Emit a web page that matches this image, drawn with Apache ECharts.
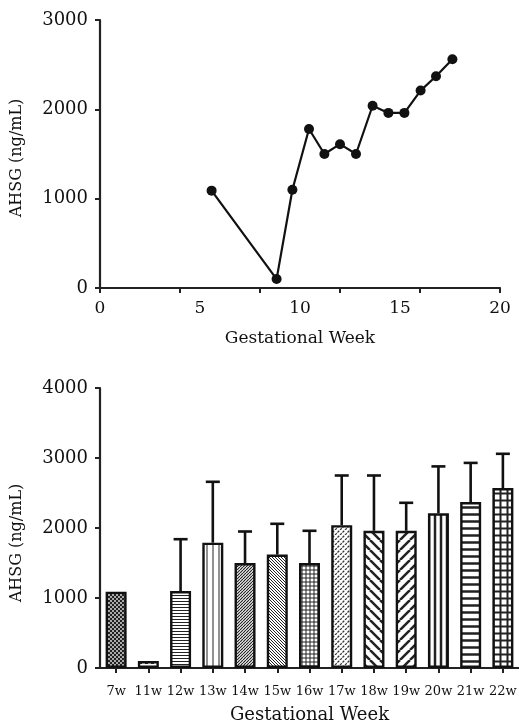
<!DOCTYPE html>
<html>
<head>
<meta charset="utf-8">
<script src="https://cdn.jsdelivr.net/npm/echarts@6/dist/echarts.min.js"></script>
<style>
  html, body { margin: 0; padding: 0; background: #fff; }
  #main { width: 519px; height: 720px; }
</style>
</head>
<body>
<div id="main"></div>
<script>
  // top panel: mean AHSG against gestational week
  var lineWeeks = [5.58, 8.83, 9.62, 10.45, 11.22, 12.0, 12.8, 13.63, 14.42, 15.22, 16.03, 16.8, 17.62];
  var lineValues = [1090, 100, 1100, 1780, 1500, 1610, 1500, 2040, 1960, 1960, 2210, 2370, 2560];

  // bottom panel: mean + upper SD per week
  var weekLabels = ['7w', '11w', '12w', '13w', '14w', '15w', '16w', '17w', '18w', '19w', '20w', '21w', '22w'];
  var barValues = [1090, 100, 1100, 1790, 1500, 1620, 1500, 2040, 1960, 1960, 2210, 2370, 2570];
  var errUpper = [null, null, 1840, 2660, 1950, 2060, 1960, 2750, 2750, 2360, 2880, 2930, 3060];

  var yTicksTop = [0, 1000, 2000, 3000];
  var yTicksBottom = [0, 1000, 2000, 3000, 4000];

  var patternKinds = ['checker', 'dots', 'hthin', 'vthin', 'fslash', 'bslash', 'gridthin',
    'fdash', 'bslashthick', 'fslashthick', 'vthick', 'hthick', 'gridthick'];

  var serif = 'DejaVu Serif';
  var ink = '#111';

  // small canvas tiles used as bar fill patterns
  function makePattern(kind) {
    var s = 6;
    if (kind === 'bslashthick' || kind === 'fslashthick') s = 10;
    if (kind === 'hthick' || kind === 'gridthick') s = 7;
    if (kind === 'vthick') s = 6;
    if (kind === 'hthin' || kind === 'fslash' || kind === 'bslash') s = 3;
    if (kind === 'checker') s = 4;
    if (kind === 'gridthin') s = 4;
    if (kind === 'fdash') s = 5;
    var c = document.createElement('canvas');
    c.width = s; c.height = s;
    var g = c.getContext('2d');
    g.fillStyle = '#fff';
    g.fillRect(0, 0, s, s);
    g.strokeStyle = '#222';
    g.fillStyle = '#333';
    if (kind === 'checker') {
      g.fillStyle = '#aaa';
      g.fillRect(0, 0, s, s);
      g.fillStyle = '#222';
      g.fillRect(0, 0, 2, 2);
      g.fillRect(2, 2, 2, 2);
    } else if (kind === 'dots') {
      g.fillRect(1, 1, 3, 3);
    } else if (kind === 'hthin' || kind === 'hthick') {
      g.lineWidth = kind === 'hthin' ? 1 : 2.5;
      g.beginPath(); g.moveTo(0, s / 2); g.lineTo(s, s / 2); g.stroke();
    } else if (kind === 'vthin' || kind === 'vthick') {
      g.lineWidth = kind === 'vthin' ? 1 : 2.5;
      g.beginPath(); g.moveTo(s / 2, 0); g.lineTo(s / 2, s); g.stroke();
    } else if (kind === 'gridthin' || kind === 'gridthick') {
      g.lineWidth = kind === 'gridthin' ? 1 : 2;
      g.beginPath();
      g.moveTo(0, s / 2); g.lineTo(s, s / 2);
      g.moveTo(s / 2, 0); g.lineTo(s / 2, s);
      g.stroke();
    } else if (kind === 'fslash' || kind === 'fslashthick' || kind === 'fdash') {
      g.lineWidth = kind === 'fslashthick' ? 2.5 : 1.2;
      if (kind === 'fdash') { g.strokeStyle = '#333'; g.setLineDash([2.5, 1]); }
      g.beginPath();
      for (var k = -1; k <= 1; k++) { g.moveTo(k * s, s); g.lineTo(k * s + s, 0); }
      g.stroke();
    } else if (kind === 'bslash' || kind === 'bslashthick') {
      g.lineWidth = kind === 'bslashthick' ? 2.5 : 1;
      g.beginPath();
      for (var m = -1; m <= 1; m++) { g.moveTo(m * s, 0); g.lineTo(m * s + s, s); }
      g.stroke();
    }
    return { image: c, repeat: 'repeat' };
  }

  var barData = barValues.map(function (v, i) {
    return {
      value: v,
      itemStyle: { color: makePattern(patternKinds[i]) }
    };
  });

  var errData = [];
  errUpper.forEach(function (u, i) {
    if (u !== null) errData.push([i, barValues[i], u]);
  });

  var plain = function (v) { return String(v); };
  var axisLine = { show: true, lineStyle: { color: '#222', width: 2.2 } };
  var axisTick = { show: true, length: 5, lineStyle: { color: '#222', width: 2 } };

  var option = {
    animation: false,
    backgroundColor: '#fff',
    grid: [
      { left: 100, top: 20, width: 400, height: 268, outerBoundsMode: 'none' },
      { left: 100, top: 388, width: 419, height: 280, outerBoundsMode: 'none' }
    ],
    xAxis: [
      {
        gridIndex: 0, type: 'value', min: 0, max: 20, interval: 4, position: 'bottom',
        axisLine: axisLine, axisTick: axisTick, axisLabel: { show: false }, splitLine: { show: false }
      },
      {
        gridIndex: 0, type: 'value', min: 0, max: 20, interval: 5, position: 'bottom',
        axisLine: { show: false }, axisTick: { show: false }, splitLine: { show: false },
        axisLabel: { color: ink, fontFamily: serif, fontSize: 17, margin: 12, formatter: plain },
        name: 'Gestational Week', nameLocation: 'middle', nameGap: 42,
        nameTextStyle: { color: ink, fontFamily: serif, fontSize: 17 }
      },
      {
        gridIndex: 1, type: 'category', data: weekLabels,
        axisLine: axisLine, axisTick: { show: true, alignWithLabel: true, length: 5, lineStyle: { color: '#222', width: 2 } },
        axisLabel: { color: ink, fontFamily: serif, fontSize: 13, margin: 17, interval: 0 },
        name: 'Gestational Week', nameLocation: 'middle', nameGap: 38,
        nameTextStyle: { color: ink, fontFamily: serif, fontSize: 18 }
      }
    ],
    yAxis: [
      {
        gridIndex: 0, type: 'value', min: yTicksTop[0], max: yTicksTop[yTicksTop.length - 1], interval: 1000,
        axisLine: axisLine, axisTick: axisTick, splitLine: { show: false },
        axisLabel: { color: ink, fontFamily: serif, fontSize: 18, margin: 12, formatter: plain },
        name: 'AHSG (ng/mL)', nameLocation: 'middle', nameGap: 75,
        nameTextStyle: { color: ink, fontFamily: serif, fontSize: 16, padding: [0, 8, 0, 0] }
      },
      {
        gridIndex: 1, type: 'value', min: yTicksBottom[0], max: yTicksBottom[yTicksBottom.length - 1], interval: 1000,
        axisLine: axisLine, axisTick: axisTick, splitLine: { show: false },
        axisLabel: { color: ink, fontFamily: serif, fontSize: 18, margin: 12, formatter: plain },
        name: 'AHSG (ng/mL)', nameLocation: 'middle', nameGap: 75,
        nameTextStyle: { color: ink, fontFamily: serif, fontSize: 16, padding: [0, 30, 0, 0] }
      }
    ],
    series: [
      {
        type: 'line', xAxisIndex: 0, yAxisIndex: 0,
        data: lineWeeks.map(function (w, i) { return [w, lineValues[i]]; }),
        symbol: 'circle', symbolSize: 10,
        itemStyle: { color: '#111' },
        lineStyle: { color: '#111', width: 2.2 }
      },
      {
        type: 'custom', xAxisIndex: 2, yAxisIndex: 1, z: 1,
        data: errData,
        renderItem: function (params, api) {
          var base = api.coord([api.value(0), api.value(1)]);
          var top = api.coord([api.value(0), api.value(2)]);
          var half = 7;
          return {
            type: 'group',
            children: [
              { type: 'line', shape: { x1: base[0], y1: base[1], x2: top[0], y2: top[1] },
                style: { stroke: '#111', lineWidth: 2.6 } },
              { type: 'line', shape: { x1: top[0] - half, y1: top[1], x2: top[0] + half, y2: top[1] },
                style: { stroke: '#111', lineWidth: 2.6 } }
            ]
          };
        }
      },
      {
        type: 'bar', xAxisIndex: 2, yAxisIndex: 1, z: 3,
        data: barData, barWidth: 21,
        itemStyle: { borderColor: '#111', borderWidth: 2.4 }
      }
    ]
  };

  echarts.init(document.getElementById('main')).setOption(option);
</script>
</body>
</html>
